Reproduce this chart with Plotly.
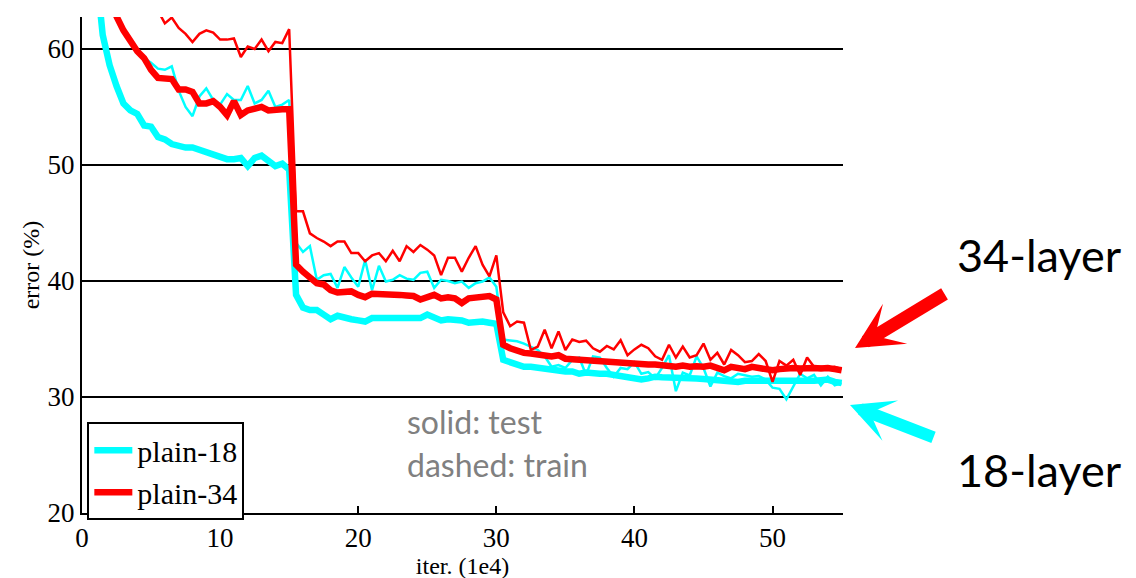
import numpy as np
import plotly.graph_objects as go

# iteration sample points (1e4), every 0.5
iters = np.arange(1, 111) * 0.5

test_18 = [76, 67, 61.2, 58.6, 56.8, 55.3, 54.7, 54.4, 53.4, 53.3,
           52.4, 52.2, 51.8, 51.6, 51.5, 51.5, 51.3, 51.1, 50.8, 50.6,
           50.5, 50.5, 50.6, 49.9, 50.6, 50.8, 50.4, 49.9, 50.1, 49.6,
           38.8, 37.7, 37.5, 37.5, 37.1, 36.7, 37.0, 36.8, 36.7, 36.6,
           36.5, 36.8, 36.8, 36.9, 36.9, 36.9, 36.9, 36.8, 36.8, 37.1,
           36.9, 36.6, 36.7, 36.7, 36.6, 36.4, 36.5, 36.5, 36.4, 36.3,
           33.2, 33.0, 32.8, 32.6, 32.6, 32.5, 32.4, 32.3, 32.3, 32.2,
           32.2, 32.0, 32.1, 32.0, 32.0, 32.0, 31.9, 31.8, 31.75, 31.7,
           31.5, 31.6, 31.75, 31.7, 31.7, 31.7, 31.65, 31.6, 31.6, 31.55,
           31.5, 31.5, 31.4, 31.35, 31.3, 31.4, 31.4, 31.35, 31.3, 31.3,
           31.3, 31.3, 31.3, 31.35, 31.4, 31.4, 31.45, 31.5, 31.3, 31.2]

train_18 = [85, 77, 71, 65.5, 62.6, 61.7, 60.7, 59.8, 59.2, 58.8,
            58.3, 58.2, 58.5, 56.4, 55.0, 54.2, 55.9, 56.6, 55.6, 55.2,
            56.1, 55.6, 55.6, 56.8, 55.3, 55.6, 56.4, 55.0, 55.2, 55.6,
            43.3, 42.5, 43.0, 40.1, 40.5, 40.6, 39.4, 41.2, 40.3, 39.5,
            41.8, 39.2, 41.3, 39.95, 40.1, 40.5, 40.2, 40.1, 40.7, 40.8,
            39.4, 40.1, 40.0, 39.8, 39.95, 39.4, 39.8, 39.95, 40.3, 39.5,
            34.95, 34.9, 34.8, 34.6, 34.3, 34.05, 33.5, 32.6, 32.75, 32.5,
            33.2, 33.4, 31.9, 33.5, 33.4, 32.5, 31.75, 32.5, 32.4, 33.0,
            32.0, 32.15, 31.6, 32.5, 33.6, 30.5, 32.1, 31.85, 33.5, 32.5,
            30.9, 32.1, 31.8, 31.6, 32.0, 31.9, 31.75, 31.8, 31.5, 30.8,
            30.7, 29.8, 30.9, 32.0, 31.6, 31.9, 31.0, 31.75, 31.0, 31.2]

test_34 = [85, 77, 71, 66, 62.8, 61.6, 60.6, 59.8, 59.2, 58.2,
           57.5, 57.5, 57.4, 56.5, 56.5, 56.3, 55.3, 55.3, 55.5, 55.0,
           54.3, 55.5, 54.3, 54.7, 54.9, 55.0, 54.7, 54.8, 54.8, 54.8,
           41.4, 40.8, 40.3, 39.8, 39.7, 39.2, 39.0, 39.0, 39.1, 38.8,
           38.6, 38.9, 38.9, 38.9, 38.85, 38.8, 38.75, 38.7, 38.4, 38.6,
           38.8, 38.5, 38.6, 38.5, 38.1, 38.5, 38.6, 38.7, 38.7, 38.4,
           34.5, 34.2, 34.0, 33.8, 33.75, 33.7, 33.6, 33.5, 33.6, 33.3,
           33.25, 33.2, 33.2, 33.15, 33.1, 33.1, 33.0, 32.9, 32.9, 32.85,
           32.8, 32.8, 32.8, 32.75, 32.75, 32.6, 32.7, 32.6, 32.65, 32.6,
           32.7, 32.5, 32.3, 32.6, 32.5, 32.4, 32.6, 32.5, 32.4, 32.3,
           32.4, 32.5, 32.5, 32.45, 32.5, 32.5, 32.45, 32.5, 32.4, 32.3]

train_34 = [95, 88, 82, 77, 73, 70, 68, 66.5, 65.3, 64.2,
            63.3, 62.2, 62.7, 61.8, 61.3, 60.6, 61.3, 61.6, 61.4, 60.8,
            60.8, 60.9, 59.3, 60.2, 60.0, 60.8, 59.8, 60.6, 60.5, 61.7,
            46.0, 46.0, 44.1, 43.7, 43.4, 43.0, 43.4, 43.4, 42.4, 42.4,
            41.7, 42.2, 42.4, 41.7, 42.6, 41.7, 43.0, 42.5, 43.1, 42.7,
            42.2, 40.5, 42.0, 42.0, 40.8, 42.0, 43.0, 41.4, 40.4, 42.2,
            37.3, 36.1, 36.5, 36.4, 34.05, 34.35, 35.8, 34.2, 35.65, 34.05,
            34.95, 34.75, 34.85, 34.2, 33.9, 34.4, 34.1, 34.9, 33.6, 34.1,
            34.5, 34.2, 33.5, 33.2, 34.5, 33.4, 34.35, 33.4, 33.6, 34.6,
            33.2, 33.8, 32.8, 34.05, 33.6, 33.0, 33.1, 33.7, 33.1, 31.3,
            33.1, 32.7, 33.2, 31.9, 33.4, 32.6, 32.6, 32.5, 32.6, 32.4]

x_ticks = [0, 10, 20, 30, 40, 50]
y_ticks = [20, 30, 40, 50, 60]

CYAN = "#00FFFF"
RED = "#FF0000"
SERIF = "Liberation Serif, Times New Roman, serif"
SANS = "Lato, Liberation Sans, sans-serif"

fig = go.Figure()
fig.add_trace(go.Scatter(x=iters, y=test_18, mode="lines", name="plain-18",
                         line=dict(color=CYAN, width=6.5), showlegend=True))
fig.add_trace(go.Scatter(x=iters, y=train_18, mode="lines", name="plain-18 train",
                         line=dict(color=CYAN, width=2.5), showlegend=False))
fig.add_trace(go.Scatter(x=iters, y=test_34, mode="lines", name="plain-34",
                         line=dict(color=RED, width=6.5), showlegend=True))
fig.add_trace(go.Scatter(x=iters, y=train_34, mode="lines", name="plain-34 train",
                         line=dict(color=RED, width=2.5), showlegend=False))

# the page body adds an 8px offset, so margins are reduced accordingly
fig.update_layout(
    width=1136, height=578,
    margin=dict(l=74, r=301, t=9, b=73, autoexpand=False),
    paper_bgcolor="white", plot_bgcolor="white",
    font=dict(family=SERIF, color="black", size=26),
    legend=dict(x=0.007, y=0.183, xanchor="left", yanchor="top",
                bordercolor="black", borderwidth=2, bgcolor="white",
                font=dict(family=SERIF, size=30, color="black"),
                itemwidth=38, tracegroupgap=0),
    showlegend=True,
)
fig.update_xaxes(range=[0, 55.1], tickvals=x_ticks, showgrid=False, zeroline=False,
                 automargin=False,
                 showline=True, linecolor="black", linewidth=2,
                 ticks="inside", ticklen=7, tickwidth=2, tickcolor="black",
                 tickfont=dict(family=SERIF, size=27),
                 title=dict(text="iter. (1e4)", font=dict(family=SERIF, size=24), standoff=0))
fig.update_yaxes(range=[20, 62.75], tickvals=y_ticks, showgrid=True, gridcolor="black",
                 gridwidth=2, zeroline=False, automargin=False,
                 showline=True, linecolor="black", linewidth=2,
                 ticks="inside", ticklen=7, tickwidth=2, tickcolor="black",
                 tickfont=dict(family=SERIF, size=27),
                 title=dict(text="error (%)", font=dict(family=SERIF, size=24), standoff=1))

# gray note text
fig.add_annotation(x=0.4244, y=0.1835, xref="paper", yref="paper", text="solid: test",
                   showarrow=False, xanchor="left", yanchor="middle",
                   font=dict(family=SANS, size=32, color="#808080"))
fig.add_annotation(x=0.4244, y=0.0968, xref="paper", yref="paper", text="dashed: train",
                   showarrow=False, xanchor="left", yanchor="middle",
                   font=dict(family=SANS, size=32, color="#808080"))

# right-side labels
fig.add_annotation(x=1.147, y=0.520, xref="paper", yref="paper", text="34-layer",
                   showarrow=False, xanchor="left", yanchor="middle",
                   font=dict(family=SANS, size=45, color="black"))
fig.add_annotation(x=1.147, y=0.0867, xref="paper", yref="paper", text="18-layer",
                   showarrow=False, xanchor="left", yanchor="middle",
                   font=dict(family=SANS, size=45, color="black"))

# arrows
fig.add_annotation(x=1.0158, y=0.3327, xref="paper", yref="paper", text="",
                   showarrow=True, ax=91, ay=-55, arrowhead=3, arrowsize=0.6,
                   arrowwidth=13, arrowcolor=RED)
fig.add_annotation(x=1.0092, y=0.2177, xref="paper", yref="paper", text="",
                   showarrow=True, ax=85, ay=33, arrowhead=3, arrowsize=0.6,
                   arrowwidth=12, arrowcolor=CYAN)

fig.write_html("out.html")
